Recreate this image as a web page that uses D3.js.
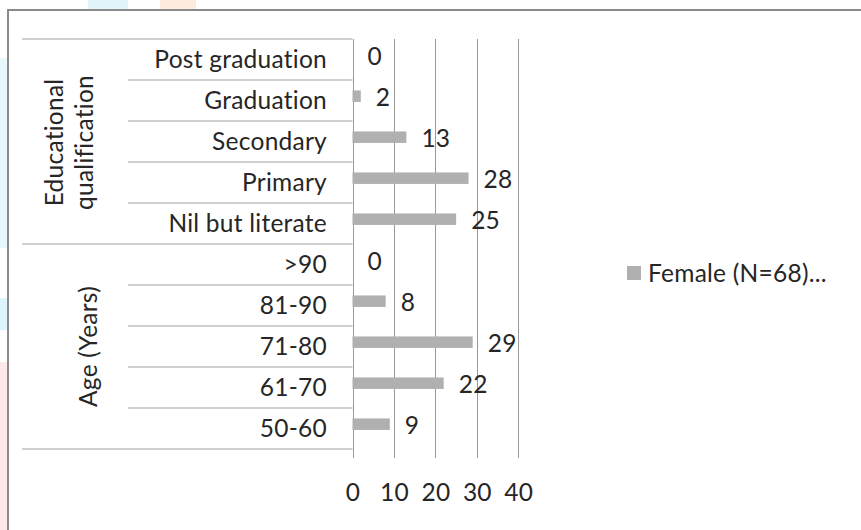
<!DOCTYPE html>
<html>
<head>
<meta charset="utf-8">
<script src="https://cdn.jsdelivr.net/npm/d3@7"></script>
<style>
  html, body { margin: 0; padding: 0; background: #ffffff; }
  svg { display: block; font-family: Lato, "Open Sans", sans-serif; }
  svg text { letter-spacing: 0.25px; }
</style>
</head>
<body>
<svg id="chart" width="861" height="530"></svg>
<script>
// Female respondents by educational qualification and age group
const categories = ["Post graduation", "Graduation", "Secondary", "Primary", "Nil but literate",
                    ">90", "81-90", "71-80", "61-70", "50-60"];
const categoryGroup = [0, 0, 0, 0, 0, 1, 1, 1, 1, 1];
const groupNames = [["Educational", "qualification"], ["Age (Years)"]];
const femaleValues = [0, 2, 13, 28, 25, 0, 8, 29, 22, 9];
const xTicks = [0, 10, 20, 30, 40];
const seriesName = "Female (N=68)...";

const svg = d3.select("#chart");
const textColor = "#262626";
const barColor = "#b0b0b0";
const lineColor = "#a0a0a0";
const fontSize = "24.5px";

// faint decorative patches at the page margins
const patches = [
  { x: 0, y: 58, w: 7, h: 190, c: "#e6f8fb" },
  { x: 0, y: 298, w: 7, h: 32, c: "#dcf4fa" },
  { x: 0, y: 362, w: 7, h: 168, c: "#fde8ea" },
  { x: 88, y: 0, w: 40, h: 9, c: "#e2f6fa" },
  { x: 160, y: 0, w: 36, h: 9, c: "#fdebdf" }
];
svg.selectAll("rect.patch").data(patches).join("rect")
  .attr("class", "patch")
  .attr("x", d => d.x).attr("y", d => d.y)
  .attr("width", d => d.w).attr("height", d => d.h)
  .attr("fill", d => d.c);

// chart frame (top and left edges)
svg.append("path")
  .attr("d", "M8,530 V10 H861")
  .attr("fill", "none")
  .attr("stroke", "#8a8a8a")
  .attr("stroke-width", 2);

const plotTop = 39, plotBottom = 449;
const x = d3.scaleLinear().domain([0, 40]).range([352.5, 518.3]);
const y = d3.scaleBand().domain(categories).range([plotTop, plotBottom]).padding(0);
const bw = y.bandwidth();

// vertical gridlines, tick marks and tick labels
const axis = d3.axisBottom(x).tickValues(xTicks).tickSize(-(458 - plotTop)).tickPadding(26);
const gx = svg.append("g").attr("transform", "translate(0,458)").call(axis);
gx.select(".domain").remove();
gx.selectAll(".tick line").attr("stroke", "#9a9a9a").attr("stroke-width", 1).attr("shape-rendering", "crispEdges");
gx.selectAll(".tick text")
  .attr("fill", textColor)
  .style("font-size", fontSize)
  .style("font-family", "Lato, 'Open Sans', sans-serif");

// category table lines
const groupBounds = [0, 5, 10];
const outerLines = groupBounds.map(i => i < categories.length ? y(categories[i]) : plotBottom);
svg.selectAll("line.outer").data(outerLines).join("line")
  .attr("class", "outer")
  .attr("x1", 22).attr("x2", x(0))
  .attr("y1", d => d).attr("y2", d => d)
  .attr("stroke", lineColor).attr("stroke-width", 1.2);
const innerLines = categories.map((c, i) => i).filter(i => i !== 0 && i !== 5).map(i => y(categories[i]));
svg.selectAll("line.inner").data(innerLines).join("line")
  .attr("class", "inner")
  .attr("x1", 128).attr("x2", x(0))
  .attr("y1", d => d).attr("y2", d => d)
  .attr("stroke", lineColor).attr("stroke-width", 1.2);

// category labels
svg.selectAll("text.cat").data(categories).join("text")
  .attr("class", "cat")
  .attr("x", 327)
  .attr("y", d => y(d) + bw / 2)
  .attr("dy", "0.36em")
  .attr("text-anchor", "end")
  .attr("fill", textColor)
  .style("font-size", fontSize)
  .text(d => d);

// group labels (rotated)
const groupCenters = [ (outerLines[0] + outerLines[1]) / 2 + 1, (outerLines[1] + outerLines[2]) / 2 ];
const groupBaselines = [[63, 93], [96.5]];
groupNames.forEach((lines, gi) => {
  lines.forEach((ln, li) => {
    svg.append("text")
      .attr("transform", `translate(${groupBaselines[gi][li]},${groupCenters[gi]}) rotate(-90)`)
      .attr("text-anchor", "middle")
      .attr("fill", textColor)
      .style("font-size", fontSize)
      .text(ln);
  });
});

// bars
const rows = categories.map((c, i) => ({ cat: c, value: femaleValues[i] }));
svg.selectAll("rect.bar").data(rows).join("rect")
  .attr("class", "bar")
  .attr("x", x(0))
  .attr("y", d => y(d.cat) + bw * 0.255)
  .attr("width", d => x(d.value) - x(0))
  .attr("height", bw * 0.28)
  .attr("fill", barColor);

// value labels
svg.selectAll("text.val").data(rows).join("text")
  .attr("class", "val")
  .attr("x", d => x(d.value) + 15)
  .attr("y", d => y(d.cat) + bw / 2 - 3.5)
  .attr("dy", "0.36em")
  .attr("fill", textColor)
  .style("font-size", fontSize)
  .text(d => d.value);

// legend
const legend = svg.append("g").attr("transform", "translate(627,266)");
legend.append("rect").attr("width", 14).attr("height", 14).attr("fill", barColor);
legend.append("text")
  .attr("x", 21).attr("y", 7).attr("dy", "0.36em")
  .attr("fill", textColor)
  .style("font-size", fontSize)
  .text(seriesName);
</script>
</body>
</html>
